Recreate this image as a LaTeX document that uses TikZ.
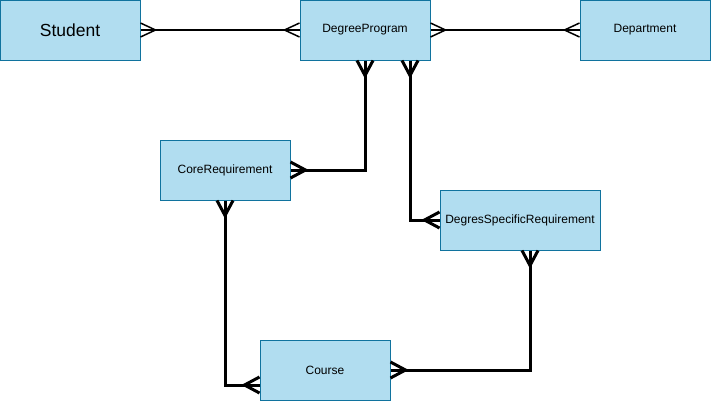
\documentclass[tikz,border=0pt]{standalone}
\usepackage{fontspec}
\setmainfont{Liberation Sans}
\usetikzlibrary{arrows.meta,positioning}

\definecolor{entfill}{HTML}{B1DDF0}
\definecolor{entline}{HTML}{10739E}

% crow's foot: prongs open at the entity, the line runs to the edge
\pgfdeclarearrow{
    name=CrowFoot,
    parameters={\the\pgfarrowlength,\the\pgfarrowwidth},
    setup code={
        \pgfarrowssettipend{0pt}
        \pgfarrowssetlineend{0pt}
        \pgfarrowssetbackend{-\pgfarrowlength}
        \pgfarrowssetvisualbackend{-\pgfarrowlength}
    },
    drawing code={
        \pgfpathmoveto{\pgfqpoint{0pt}{0.5\pgfarrowwidth}}
        \pgfpathlineto{\pgfqpoint{-\pgfarrowlength}{0pt}}
        \pgfpathlineto{\pgfqpoint{0pt}{-0.5\pgfarrowwidth}}
        \pgfusepathqstroke
    },
    defaults={length=15pt, width=14pt}
}

\tikzset{
    entity/.style={draw=entline, fill=entfill, line width=1pt, minimum width=130pt,
        minimum height=60pt, inner sep=0pt, font=\fontsize{12}{14}\selectfont},
    rel/.style={line width=1.5pt, {CrowFoot}-{CrowFoot}},
    relthick/.style={line width=3pt, {CrowFoot[width=16pt]}-{CrowFoot[width=16pt]}},
}

\begin{document}
\begin{tikzpicture}[x=1pt, y=-1pt]
            \useasboundingbox (0, 0) rectangle (711, 402);

            \node[entity, minimum width=140pt, font=\fontsize{17.5}{20}\selectfont] (student) at (70, 30) { Student };
            \node[entity] (degprog) at (365, 30) { DegreeProgram };
            \node[entity] (dept) at (645, 30) { Department };
            \node[entity] (corereq) at (225, 170) { CoreRequirement };
            \node[entity, minimum width=160pt] (specreq) at (520, 220) { DegresSpecificRequirement };
            \node[entity] (course) at (325, 370) { Course };

            \draw[rel] (student) -- (degprog);
            \draw[rel] (degprog) -- (dept);

            \draw[relthick] (degprog.south) |- (corereq.east);
            \draw[relthick] ([xshift=45pt]degprog.south) |- (specreq.west);
            \draw[relthick] (corereq.south) |- ([yshift=-15pt]course.west);
            \draw[relthick] (course.east) -| ([xshift=10pt]specreq.south);

        \end{tikzpicture}
\end{document}
